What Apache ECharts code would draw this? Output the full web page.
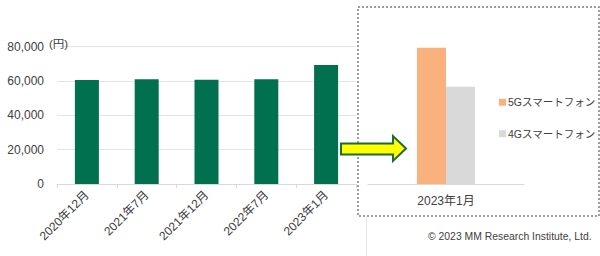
<!DOCTYPE html>
<html><head><meta charset="utf-8">
<script src="https://cdn.jsdelivr.net/npm/echarts@6/dist/echarts.min.js"></script>
<style>html,body{margin:0;padding:0;background:#fff}#c{width:600px;height:256px}</style>
</head><body><div id="c"></div>
<script>
// Data
var periods = ['2020年12月', '2021年7月', '2021年12月', '2022年7月', '2023年1月'];
var avgPrice = [60600, 61000, 60700, 61000, 69400];
var insetCategory = ['2023年1月'];
var insetSeriesNames = ['5Gスマートフォン', '4Gスマートフォン'];
var price5G = [79400];
var price4G = [56700];
var yTicksMax = 80000, yInterval = 20000;
var unitLabel = '(円)';
var copyright = '© 2023 MM Research Institute, Ltd.';

var FONT = '"Liberation Sans", "Noto Sans CJK JP", sans-serif';
var chart = echarts.init(document.getElementById('c'), null, {renderer: 'svg'});
chart.setOption({
  animation: false,
  textStyle: {fontFamily: FONT},
  grid: [
    {left: 57, top: 46.7, width: 299, height: 137.3},
    {left: 368, top: 46.7, width: 156, height: 137.3}
  ],
  legend: {
    data: insetSeriesNames,
    orient: 'vertical',
    left: 494, top: 92,
    icon: 'rect', itemWidth: 7, itemHeight: 7, itemGap: 21,
    textStyle: {fontSize: 10.5, color: '#404040', fontFamily: FONT, padding: [0,0,0,-3]}
  },
  xAxis: [
    {gridIndex: 0, type: 'category', data: periods,
     axisLine: {lineStyle: {color: '#D9D9D9'}},
     axisTick: {show: true, length: 4, lineStyle: {color: '#D9D9D9'}},
     axisLabel: {rotate: 45, fontSize: 12, color: '#404040', margin: 9, interval: 0}},
    {gridIndex: 1, type: 'category', data: insetCategory,
     axisLine: {lineStyle: {color: '#D9D9D9'}},
     axisTick: {show: false},
     axisLabel: {fontSize: 12, color: '#404040', margin: 11}}
  ],
  yAxis: [
    {gridIndex: 0, type: 'value', min: 0, max: yTicksMax, interval: yInterval,
     axisLine: {show: false}, axisTick: {show: false},
     splitLine: {lineStyle: {color: '#E4E4E4'}},
     axisLabel: {fontSize: 12, color: '#404040', margin: 13,
       formatter: function(v){ return v.toLocaleString('en-US'); }},
     name: unitLabel, nameLocation: 'end', nameGap: -3,
     nameTextStyle: {fontSize: 11.5, color: '#404040', align: 'left', padding: [0,0,0,-8]}},
    {gridIndex: 1, type: 'value', min: 0, max: yTicksMax, show: false,
     splitLine: {show: false}}
  ],
  series: [
    {type: 'bar', xAxisIndex: 0, yAxisIndex: 0, data: avgPrice, barWidth: 24,
     itemStyle: {color: '#00704F'}},
    {type: 'bar', name: insetSeriesNames[0], xAxisIndex: 1, yAxisIndex: 1, data: price5G,
     barWidth: 29, barGap: '0%', itemStyle: {color: '#F9B27D'}},
    {type: 'bar', name: insetSeriesNames[1], xAxisIndex: 1, yAxisIndex: 1, data: price4G,
     barWidth: 29, barGap: '0%', itemStyle: {color: '#D9D9D9'}}
  ],
  graphic: [
    {type: 'rect', shape: {x: 358, y: 7, width: 241, height: 209},
     style: {fill: 'none', stroke: '#7F7F7F', lineWidth: 1.5, lineDash: [2, 2]}, z: 10},
    {type: 'line', shape: {x1: 366.5, y1: 217, x2: 366.5, y2: 256},
     style: {stroke: '#E8E8E8', lineWidth: 1}},
    {type: 'polygon', shape: {points: [[341,143.5],[393,143.5],[393,136],[406,148.5],[393,161],[393,154.5],[341,154.5]]},
     style: {fill: '#FFFF00', stroke: '#1E6B3A', lineWidth: 2}, z: 20},
    {type: 'text', left: 428, top: 231,
     style: {text: copyright, fontSize: 10.4, fill: '#404040', fontFamily: FONT}}
  ]
});
</script></body></html>
